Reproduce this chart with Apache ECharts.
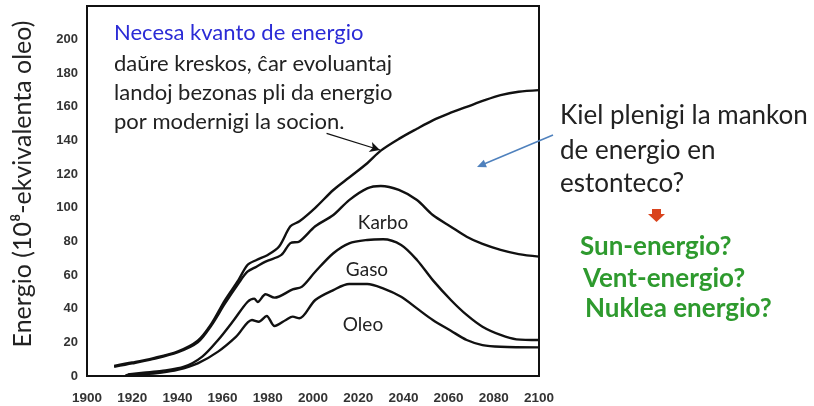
<!DOCTYPE html>
<html>
<head>
<meta charset="utf-8">
<script src="https://cdn.jsdelivr.net/npm/echarts@6/dist/echarts.min.js"></script>
<style>html,body{margin:0;padding:0;background:#fff;}#c{width:814px;height:406px;}</style>
</head>
<body>
<div id="c"></div>
<script>
// ---- data ----
const xTicks = [1900, 1920, 1940, 1960, 1980, 2000, 2020, 2040, 2060, 2080, 2100];
const yTicks = [0, 20, 40, 60, 80, 100, 120, 140, 160, 180, 200];

const totalYears  = [1912, 1920, 1929, 1940, 1949, 1955, 1961, 1967, 1971, 1975, 1980, 1985, 1990, 1994, 2001, 2009, 2016, 2024, 2030, 2038, 2046, 2053, 2060, 2068, 2076, 2083, 2091, 2100];
const totalValues = [6, 8, 10.5, 14.5, 21, 31, 45, 57, 66, 69, 72, 77, 89, 92, 100, 110.6, 118, 126.5, 134, 141, 147, 152, 156, 160, 164, 167, 169, 170];

const karboYears  = [1912, 1920, 1929, 1940, 1949, 1955, 1961, 1967, 1971, 1975, 1979, 1986, 1990, 1994, 2001, 2009, 2016, 2024, 2030, 2038, 2046, 2053, 2061, 2068, 2075, 2083, 2091, 2100];
const karboValues = [5.5, 7.5, 10, 14, 20, 30, 43, 55, 62, 65, 68, 72, 79, 80, 89, 95.7, 104.6, 111.6, 113, 110.6, 104.6, 95.7, 88.8, 82.8, 78.5, 75, 72.5, 71];

const gasoYears  = [1918, 1925, 1933, 1943, 1951, 1958, 1965, 1971, 1974, 1975.5, 1979, 1983, 1991, 1995, 2001, 2009, 2016, 2024, 2031, 2039, 2046, 2053, 2061, 2068, 2075, 2083, 2090, 2100];
const gasoValues = [1, 2, 3, 5.5, 11.5, 21.4, 33.3, 44, 46, 44, 48.6, 46.6, 51.5, 53, 62, 73, 78.9, 80.9, 81.3, 77.9, 69, 57, 45.2, 36.3, 29.3, 24.4, 21.8, 21.4];

const oleoYears  = [1917, 1925, 1933, 1940, 1949, 1958, 1966, 1973, 1976, 1979.5, 1983, 1988, 1991, 1994, 2001, 2009, 2016, 2024, 2031, 2039, 2046, 2053, 2061, 2068, 2075, 2083, 2100];
const oleoValues = [0.5, 1, 2, 3.6, 7.5, 14.5, 23.4, 33.3, 32.3, 35.7, 29.7, 33.3, 35.3, 34.3, 45.2, 51.1, 54.7, 54.7, 52.1, 47.1, 40.2, 33.3, 26.9, 21.4, 18.4, 17.4, 17];

const pointerFrom = [2006, 144.3];
const pointerTo   = [2029.6, 134.4];

function pairs(xs, ys) { return xs.map((x, i) => [x, ys[i]]); }

const lineStyle = { color: '#111', width: 2.4 };
function mkSeries(name, xs, ys, extra) {
  return Object.assign({
    name, type: 'line', data: pairs(xs, ys), showSymbol: false, smooth: 0.3,
    lineStyle, silent: true, animation: false
  }, extra || {});
}

const chart = echarts.init(document.getElementById('c'));
const F = 'Lato, "Open Sans", sans-serif';
const TF = '"Liberation Sans", Arial, sans-serif';
chart.setOption({
  animation: false,
  grid: { left: 87, right: 275, top: 6, bottom: 30, show: true, borderColor: '#111', borderWidth: 2, backgroundColor: 'transparent' },
  xAxis: {
    type: 'value', min: 1900, max: 2100, interval: 20,
    axisLine: { show: false }, axisTick: { show: false }, splitLine: { show: false },
    axisLabel: { margin: 15, fontSize: 13.5, fontWeight: 'bold', color: '#333', fontFamily: TF,
      formatter: v => xTicks.includes(v) ? String(v) : '' }
  },
  yAxis: {
    type: 'value', min: 0, max: 220, interval: 20,
    axisLine: { show: false }, axisTick: { show: false }, splitLine: { show: false },
    axisLabel: { margin: 9, fontSize: 13, fontWeight: 'bold', color: '#333', fontFamily: TF,
      formatter: v => yTicks.includes(v) ? String(v) : '' },
    name: 'Energio (10⁸-ekvivalenta oleo)', nameLocation: 'middle', nameRotate: 90, nameGap: 52,
    nameTextStyle: { fontSize: 25, color: '#222', fontFamily: F, padding: [0, 0, 0, 14] }
  },
  series: [
    mkSeries('Necesa', totalYears, totalValues, {
      markLine: {
        silent: true, symbol: ['none', 'arrow'], symbolSize: [8, 10],
        lineStyle: { color: '#111', width: 1.2, type: 'solid' }, label: { show: false },
        data: [[{ coord: pointerFrom }, { coord: pointerTo }]]
      }
    }),
    mkSeries('Karbo', karboYears, karboValues),
    mkSeries('Gaso', gasoYears, gasoValues),
    mkSeries('Oleo', oleoYears, oleoValues)
  ],
  graphic: [
    { type: 'text', x: 114, y: 33, style: { text: 'Necesa kvanto de energio', font: '22px ' + F, fill: '#2b2bd6', verticalAlign: 'middle' } },
    { type: 'text', x: 114, y: 64, style: { text: 'daŭre kreskos, ĉar evoluantaj', font: '22px ' + F, fill: '#222', verticalAlign: 'middle' } },
    { type: 'text', x: 114, y: 93, style: { text: 'landoj bezonas pli da energio', font: '22px ' + F, fill: '#222', verticalAlign: 'middle' } },
    { type: 'text', x: 114, y: 122, style: { text: 'por modernigi la socion.', font: '22px ' + F, fill: '#222', verticalAlign: 'middle' } },

    { type: 'text', x: 383, y: 223, style: { text: 'Karbo', font: '19px ' + F, fill: '#222', align: 'center', verticalAlign: 'middle' } },
    { type: 'text', x: 367, y: 270, style: { text: 'Gaso', font: '19px ' + F, fill: '#222', align: 'center', verticalAlign: 'middle' } },
    { type: 'text', x: 363, y: 325, style: { text: 'Oleo', font: '19px ' + F, fill: '#222', align: 'center', verticalAlign: 'middle' } },

    { type: 'text', x: 560, y: 116, style: { text: 'Kiel plenigi la mankon', font: '26px ' + F, fill: '#222', verticalAlign: 'middle' } },
    { type: 'text', x: 560, y: 151, style: { text: 'de energio en', font: '26px ' + F, fill: '#222', verticalAlign: 'middle' } },
    { type: 'text', x: 560, y: 184, style: { text: 'estonteco?', font: '26px ' + F, fill: '#222', verticalAlign: 'middle' } },

    { type: 'line', shape: { x1: 553, y1: 135, x2: 484, y2: 164 }, style: { stroke: '#4f81bd', lineWidth: 1.5 } },
    { type: 'polygon', shape: { points: [[477, 167], [486.9, 167.2], [483.8, 159.8]] }, style: { fill: '#4f81bd' } },

    { type: 'polygon', shape: { points: [[652, 209], [661, 209], [661, 214], [665, 214], [656.5, 222], [648, 214], [652, 214]] }, style: { fill: '#d9441e' } },

    { type: 'text', x: 580, y: 247, style: { text: 'Sun-energio?', font: 'bold 26px ' + F, fill: '#2e9a2e', verticalAlign: 'middle' } },
    { type: 'text', x: 583, y: 279, style: { text: 'Vent-energio?', font: 'bold 26px ' + F, fill: '#2e9a2e', verticalAlign: 'middle' } },
    { type: 'text', x: 585, y: 309, style: { text: 'Nuklea energio?', font: 'bold 26px ' + F, fill: '#2e9a2e', verticalAlign: 'middle' } }
  ]
});
</script>
</body>
</html>
